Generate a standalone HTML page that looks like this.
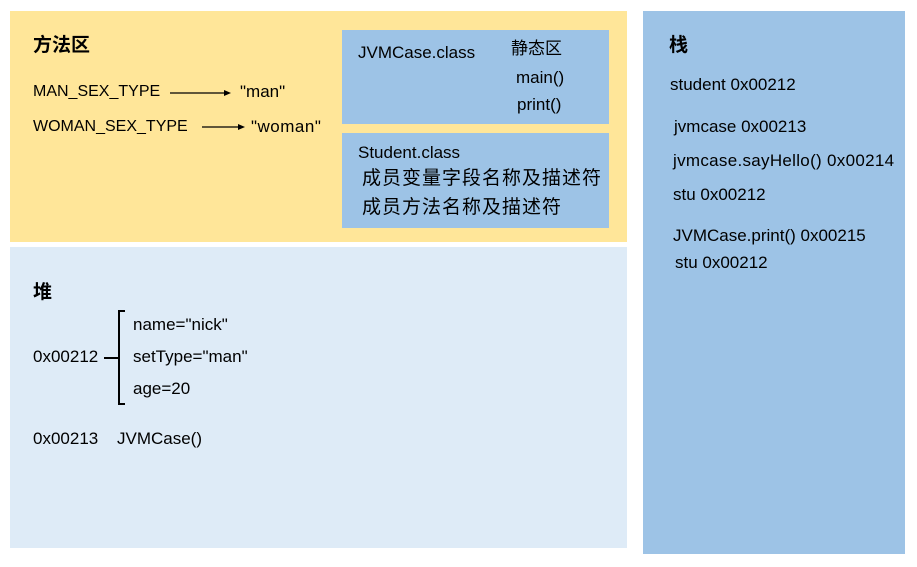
<!DOCTYPE html>
<html><head><meta charset="utf-8"><style>
body{margin:0;width:917px;height:567px;background:#fff;position:relative;overflow:hidden;font-family:"Liberation Sans","Noto Sans CJK SC",sans-serif;color:#000}
.b{position:absolute}
.t{position:absolute;font-size:17px;line-height:20px;white-space:nowrap}
.c{font-size:16px}
.h{font-weight:bold;font-size:19px}
.z{font-size:19px}
</style></head><body>
<div class="b" style="left:10px;top:11px;width:617px;height:231px;background:#FFE699"></div>
<div class="b" style="left:10px;top:247px;width:617px;height:301px;background:#DEEBF7"></div>
<div class="b" style="left:643px;top:11px;width:262px;height:543px;background:#9DC3E6"></div>
<div class="b" style="left:342px;top:30px;width:267px;height:94px;background:#9DC3E6"></div>
<div class="b" style="left:342px;top:133px;width:267px;height:95px;background:#9DC3E6"></div>

<div class="t h" style="left:33px;top:36px">方法区</div>
<div class="t c" style="left:33px;top:82px">MAN_SEX_TYPE</div>
<div class="t c" style="left:33px;top:117px">WOMAN_SEX_TYPE</div>
<div class="t" style="left:240px;top:82px">"man"</div>
<div class="t" style="left:251px;top:117px;letter-spacing:0.5px">"woman"</div>
<svg class="b" style="left:0;top:0" width="917" height="567">
<line x1="170" y1="93" x2="226" y2="93" stroke="#000" stroke-width="1.3"/>
<polygon points="231,93 224,90 224,96" fill="#000"/>
<line x1="202" y1="127" x2="240" y2="127" stroke="#000" stroke-width="1.3"/>
<polygon points="245,127 238,124 238,130" fill="#000"/>
<line x1="104" y1="358" x2="119" y2="358" stroke="#000" stroke-width="2"/>
<polyline points="125,311 119,311 119,404 125,404" fill="none" stroke="#000" stroke-width="2"/>
</svg>
<div class="t" style="left:358px;top:43px">JVMCase.class</div>
<div class="t" style="left:511px;top:39px">静态区</div>
<div class="t" style="left:516px;top:68px">main()</div>
<div class="t" style="left:517px;top:95px">print()</div>
<div class="t" style="left:358px;top:143px">Student.class</div>
<div class="t z" style="left:362px;top:169px;letter-spacing:1px">成员变量字段名称及描述符</div>
<div class="t z" style="left:362px;top:198px;letter-spacing:1px">成员方法名称及描述符</div>

<div class="t h" style="left:33px;top:283px">堆</div>
<div class="t" style="left:33px;top:347px">0x00212</div>
<div class="t" style="left:133px;top:315px">name="nick"</div>
<div class="t" style="left:133px;top:347px">setType="man"</div>
<div class="t" style="left:133px;top:379px">age=20</div>
<div class="t" style="left:33px;top:429px">0x00213</div>
<div class="t" style="left:117px;top:429px">JVMCase()</div>

<div class="t h" style="left:669px;top:36px">栈</div>
<div class="t" style="left:670px;top:75px">student 0x00212</div>
<div class="t" style="left:674px;top:117px">jvmcase 0x00213</div>
<div class="t" style="left:673px;top:151px;letter-spacing:0.3px">jvmcase.sayHello() 0x00214</div>
<div class="t" style="left:673px;top:185px">stu 0x00212</div>
<div class="t" style="left:673px;top:226px">JVMCase.print() 0x00215</div>
<div class="t" style="left:675px;top:253px">stu 0x00212</div>
</body></html>
